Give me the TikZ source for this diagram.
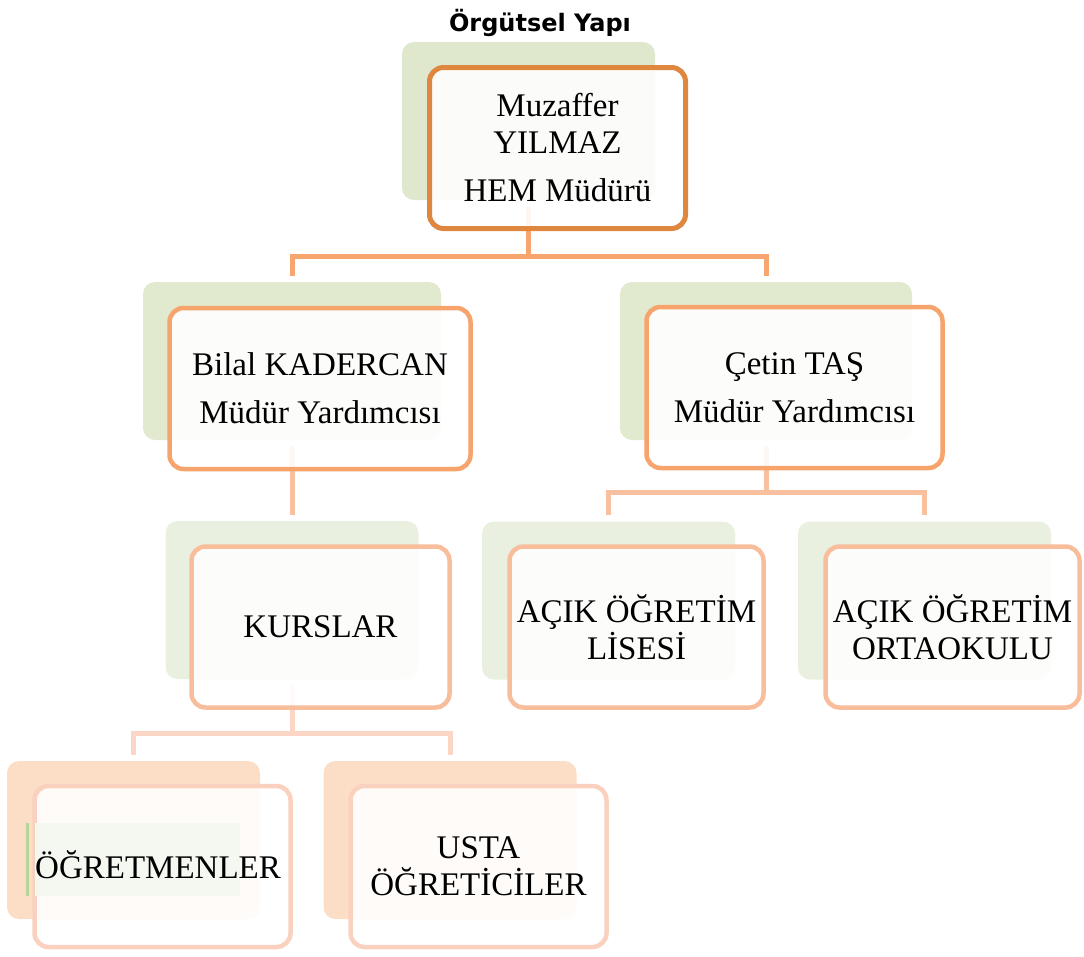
\documentclass[tikz,border=0pt]{standalone}
\usepackage{fontspec}
\setmainfont{Liberation Serif}
\newfontfamily\titlefont{DejaVu Sans}
\usepackage{xcolor}
\usepackage{tikz}
\usetikzlibrary{positioning,calc}

\definecolor{greenA}{HTML}{DFE8CC}
\definecolor{greenB}{HTML}{E1EACF}
\definecolor{greenC}{HTML}{EAF0DF}
\definecolor{peach}{HTML}{FCDDC6}
\definecolor{lineA}{HTML}{E0873F}
\definecolor{lineB}{HTML}{F6A46C}
\definecolor{lineC}{HTML}{F8BD9B}
\definecolor{lineD}{HTML}{FAD1BF}
\definecolor{linkA}{HTML}{F8A670}
\definecolor{linkB}{HTML}{F9C0A0}
\definecolor{linkC}{HTML}{FBD6C5}
\definecolor{hilite}{HTML}{F5F8F1}
\definecolor{hiliteedge}{HTML}{B5D59B}

\tikzset{
  txt/.style={font=\fontsize{33}{37}\selectfont, align=center},
  back/.style={rounded corners=12pt, inner sep=0pt, minimum width=253pt, minimum height=158pt},
  front/.style={txt, draw, rounded corners=14pt, fill=white, fill opacity=0.9, text opacity=1,
    line width=4.5pt, inner sep=0pt, minimum width=256pt, minimum height=161pt},
  link/.style={line width=5pt, shorten <=6pt, shorten >=6pt}
}

\begin{document}
\begin{tikzpicture}[x=1pt,y=-1pt]
\useasboundingbox (0,0) rectangle (1084,956);
\node[font=\titlefont\bfseries\fontsize{24}{28}\selectfont, anchor=base] (title) at (540,31) {Örgütsel Yapı};

\node[back, fill=greenA] (mudurB) at (528.5,121) {};
\node[back, fill=greenB, minimum width=298pt] (bilalB) at (292,361) {};
\node[back, fill=greenB, minimum width=292pt] (cetinB) at (766,361) {};
\node[back, fill=greenC] (kurslarB) at (292,600) {};
\node[back, fill=greenC] (liseB) at (608.5,600.5) {};
\node[back, fill=greenC] (ortaB) at (924.5,600.5) {};
\node[back, fill=peach] (ogretmenB) at (133.5,840) {};
\node[back, fill=peach] (ustaB) at (450,840) {};

\draw[link, draw=linkA] (mudurB.south) -- ++(0,56) -| (bilalB.north);
\draw[link, draw=linkA] (mudurB.south) -- ++(0,56) -| (cetinB.north);
\draw[link, draw=linkB] (bilalB.south) -- (kurslarB.north);
\draw[link, draw=linkB] (cetinB.south) -- ++(0,52) -| (liseB.north);
\draw[link, draw=linkB] (cetinB.south) -- ++(0,52) -| (ortaB.north);
\draw[link, draw=linkC] (kurslarB.south) -- ++(0,54) -| (ogretmenB.north);
\draw[link, draw=linkC] (kurslarB.south) -- ++(0,54) -| (ustaB.north);

\node[front, draw=lineA, line width=5pt] (mudur) at (557.5,148) {Muzaffer\\YILMAZ\\[11pt]HEM Müdürü};
\node[front, draw=lineB, minimum width=301pt] (bilal) at (320,388.5) {Bilal KADERCAN\\[11pt]Müdür Yardımcısı};
\node[front, draw=lineB, minimum width=296pt] (cetin) at (794.5,387.5) {Çetin TAŞ\\[11pt]Müdür Yardımcısı};
\node[front, draw=lineC, minimum width=258pt] (kurslar) at (320.5,627) {KURSLAR};
\node[front, draw=lineC, minimum width=254pt] (lise) at (636.5,627) {AÇIK ÖĞRETİM\\LİSESİ};
\node[front, draw=lineC, minimum width=254pt] (orta) at (952.5,627) {AÇIK ÖĞRETİM\\ORTAOKULU};
\node[front, draw=lineD] (ogretmen) at (162.5,866.5) {};
\node[front, draw=lineD] (usta) at (478.5,866.5) {USTA\\ÖĞRETİCİLER};

\fill[hilite] (35,823) rectangle (240,896);
\draw[hiliteedge, line width=3pt] (27.5,823) -- (27.5,896);
\node[txt, anchor=base west, inner sep=0pt] (ogretmenT) at (35,878) {ÖĞRETMENLER};
\end{tikzpicture}
\end{document}
